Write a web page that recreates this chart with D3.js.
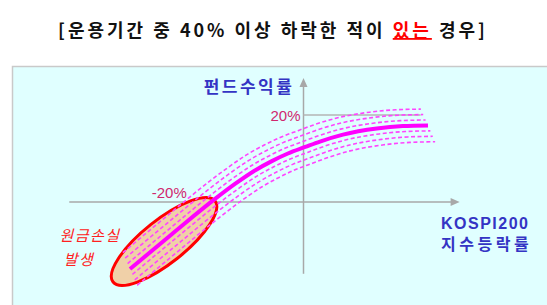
<!DOCTYPE html>
<html>
<head>
<meta charset="utf-8">
<script src="https://cdn.jsdelivr.net/npm/d3@7"></script>
<style>
  body { margin: 0; background: #fff; }
  svg { display: block; font-family: "Noto Sans CJK KR", "Noto Sans", sans-serif; }
</style>
</head>
<body>
<svg id="chart" width="547" height="305"></svg>
<script>
// KOSPI200 change (%) vs fund return (%) -- schematic payoff curve
const kospi = [-40, -30.3, -20.4, -15.8, -11.2, -7.3, -3.6, 0.4, 3.8, 9.1, 16.9, 22.9, 28.7];
const fund  = [-50.8, -34.7, -18.6, -11.7, -5.5, -1.2, 2.3, 5.3, 7.8, 11, 13.8, 14.9, 15.2];

// dashed scenario band around the main curve (fund % offsets)
const bandOffsets = [7.5, 5, 2.5, -2.5, -5, -7.5];

// principal-loss zone: two tips (kospi %, fund %)
const lossZone = [[-43.9, -56.8], [-20.4, -19.5]];

const yTicks = [20, -20];
const xAxisExtent = [-54, 36];
const yAxisExtent = [-53, 37];

const titleParts = [
  { text: '[운용기간 중 40% 이상 하락한 적이 ', red: false },
  { text: '있는', red: true },
  { text: ' 경우]', red: false }
];

const svg = d3.select('#chart');

const x = d3.scaleLinear().domain([-40, 0]).range([130, 303.5]);
const y = d3.scaleLinear().domain([-20, 20]).range([202, 115]);

// panel
svg.append('rect')
  .attr('x', 12.5).attr('y', 66.5)
  .attr('width', 560).attr('height', 260)
  .attr('fill', '#e0ffff')
  .attr('stroke', '#c9c9c9')
  .attr('stroke-width', 1.5);

// title
const title = svg.append('text')
  .attr('x', 273).attr('y', 37)
  .attr('text-anchor', 'middle')
  .attr('font-size', 18)
  .attr('font-weight', 700)
  .attr('letter-spacing', 3)
  .attr('fill', '#111');
title.selectAll('tspan')
  .data(titleParts)
  .join('tspan')
  .attr('fill', d => d.red ? '#ff0000' : '#111')
  .attr('text-decoration', d => d.red ? 'underline' : null)
  .text(d => d.text);

// axes
const axisColor = '#a8a8a8';
svg.append('line')
  .attr('x1', x(xAxisExtent[0])).attr('x2', x(xAxisExtent[1]) - 6)
  .attr('y1', y(-20)).attr('y2', y(-20))
  .attr('stroke', axisColor).attr('stroke-width', 1.5);
svg.append('path')
  .attr('d', `M${x(xAxisExtent[1])},${y(-20)} l-9,-4 l0,8 z`)
  .attr('fill', axisColor);

svg.append('line')
  .attr('x1', x(0)).attr('x2', x(0))
  .attr('y1', y(yAxisExtent[0])).attr('y2', y(yAxisExtent[1]) + 6)
  .attr('stroke', axisColor).attr('stroke-width', 1.5);
svg.append('path')
  .attr('d', `M${x(0)},${y(yAxisExtent[1])} l-4,9 l8,0 z`)
  .attr('fill', axisColor);

// 20% guide line
svg.append('line')
  .attr('x1', x(0)).attr('x2', x(27))
  .attr('y1', y(20)).attr('y2', y(20))
  .attr('stroke', '#b4b4b4').attr('stroke-width', 1.5);

// tick labels
svg.selectAll('.ytick')
  .data(yTicks)
  .join('text')
  .attr('class', 'ytick')
  .attr('x', d => d > 0 ? x(0) - 3 : x(-20) - 30)
  .attr('y', d => d > 0 ? y(d) + 6 : y(d) - 4)
  .attr('text-anchor', 'end')
  .attr('font-family', 'Liberation Sans, Arial, sans-serif')
  .attr('font-size', 15)
  .attr('fill', '#d0286e')
  .text(d => d + '%');

// loss zone ellipse
const p0 = [x(lossZone[0][0]), y(lossZone[0][1])];
const p1 = [x(lossZone[1][0]), y(lossZone[1][1])];
const cx = (p0[0] + p1[0]) / 2, cy = (p0[1] + p1[1]) / 2;
const rx = Math.hypot(p1[0] - p0[0], p1[1] - p0[1]) / 2;
const ang = Math.atan2(p1[1] - p0[1], p1[0] - p0[0]) * 180 / Math.PI;
svg.append('ellipse')
  .attr('cx', cx).attr('cy', cy)
  .attr('rx', rx).attr('ry', 21.5)
  .attr('transform', `rotate(${ang},${cx},${cy})`)
  .attr('fill', '#f0d0a8')
  .attr('stroke', '#ff0000')
  .attr('stroke-width', 3);

// curves
const pts = kospi.map((k, i) => ({ k, f: fund[i] }));
const line = d3.line()
  .x(d => x(d.k))
  .y(d => y(d.f))
  .curve(d3.curveMonotoneX);

svg.selectAll('.band')
  .data(bandOffsets)
  .join('path')
  .attr('class', 'band')
  .attr('d', o => line(pts.map(p => ({ k: p.k - o * 0.22, f: p.f + o }))))
  .attr('fill', 'none')
  .attr('stroke', '#ff44ff')
  .attr('stroke-width', 1.6)
  .attr('stroke-dasharray', '4,2.5');

svg.append('path')
  .attr('d', line(pts))
  .attr('fill', 'none')
  .attr('stroke', '#ff00ff')
  .attr('stroke-width', 4);

// axis titles
svg.append('text')
  .attr('x', 249).attr('y', 93)
  .attr('text-anchor', 'middle')
  .attr('font-size', 17)
  .attr('font-weight', 700)
  .attr('letter-spacing', 2.5)
  .attr('fill', '#3434c4')
  .text('펀드수익률');

const xTitle = svg.append('text')
  .attr('x', 441).attr('y', 229)
  .attr('font-size', 16)
  .attr('font-weight', 700)
  .attr('fill', '#3434c4');
xTitle.append('tspan').attr('x', 441).attr('letter-spacing', 1.5).attr('font-family', 'Liberation Sans, Arial, sans-serif').text('KOSPI200');
xTitle.append('tspan').attr('x', 441).attr('dy', 21).attr('letter-spacing', 3.5).text('지수등락률');

// loss note
const note = svg.append('text')
  .attr('font-size', 15)
  .attr('font-style', 'italic')
  .attr('fill', '#ff2020')
  .attr('text-anchor', 'middle');
note.append('tspan').attr('x', 90).attr('y', 241).attr('letter-spacing', 1.5).text('원금손실');
note.append('tspan').attr('x', 79).attr('y', 265).attr('letter-spacing', 1.5).text('발생');
</script>
</body>
</html>
